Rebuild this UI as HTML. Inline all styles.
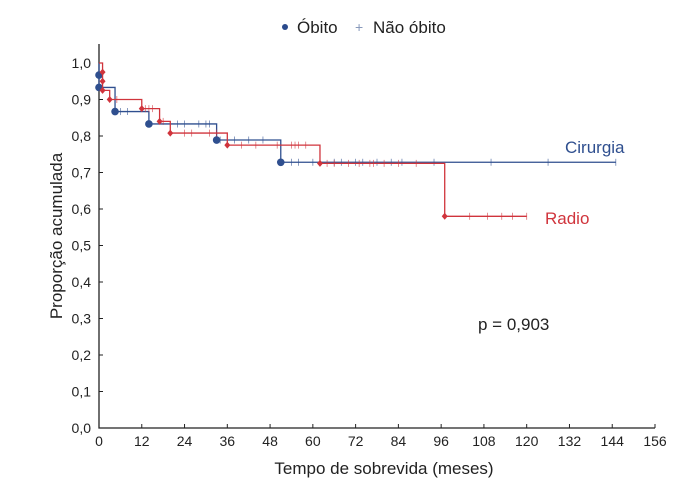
<!DOCTYPE html>
<html><head><meta charset="utf-8"><style>
body{margin:0;background:#fff;}
svg text{font-family:"Liberation Sans",Arial,sans-serif;}
</style></head><body>
<svg id="chart" width="700" height="490" xmlns="http://www.w3.org/2000/svg">
<g>
<circle cx="285" cy="27" r="3" fill="#2a4a8c"/>
<text x="297" y="33" font-size="17" fill="#222">Óbito</text>
<text x="355" y="32" font-size="14" fill="#8899bb">+</text>
<text x="373" y="33" font-size="17" fill="#222">Não óbito</text>
</g>
<g id="axes"></g>
<g id="series"></g>
<text transform="translate(62,236) rotate(-90)" text-anchor="middle" font-size="17" fill="#222">Proporção acumulada</text>
<text x="384" y="474" text-anchor="middle" font-size="17" fill="#222">Tempo de sobrevida (meses)</text>
<text x="565" y="153" font-size="17" fill="#2f4f8f">Cirurgia</text>
<text x="545" y="224" font-size="17" fill="#d0343c">Radio</text>
<text x="478" y="330" font-size="17" fill="#222">p = 0,903</text>
</svg>
<script>
const xTicks=[0,12,24,36,48,60,72,84,96,108,120,132,144,156];
const yTicks=[0,0.1,0.2,0.3,0.4,0.5,0.6,0.7,0.8,0.9,1.0];
const cirEventT=[0,0,4.5,14,33,51];
const cirEventS=[0.967,0.933,0.867,0.833,0.789,0.728];
const cirCensor=[6,8,22,24,28,30,31,34,38,42,46,54,56,60,66,68,72,74,78,82,85,94,110,126,145];
const cirEnd=145;
const radEventT=[1,1,1,3,12,17,20,36,62,97];
const radEventS=[0.975,0.95,0.925,0.9,0.875,0.84,0.808,0.775,0.725,0.58];
const radCensor=[5,13,14,15,18,24,26,31,33,40,44,50,54,55,56,58,64,66,70,73,76,77,80,84,89,104,109,113,116,120];
const radEnd=120;
const X=t=>99+t*(655-99)/156;
const Y=s=>428-s*(428-63);
const NS="http://www.w3.org/2000/svg";
function mk(tag,attrs,parent){const e=document.createElementNS(NS,tag);for(const k in attrs)e.setAttribute(k,attrs[k]);parent.appendChild(e);return e;}
const axes=document.getElementById('axes');
let ax=mk('path',{d:`M${X(0)},44 V${Y(0)} H${X(156)}`,stroke:'#222','stroke-width':1.3,fill:'none'},axes);


xTicks.forEach(t=>{
 const l=mk('line',{x1:X(t),x2:X(t),y1:Y(0),y2:Y(0)-4,stroke:'#222'},axes);
 
 
 const tx=mk('text',{x:X(t),y:446,'text-anchor':'middle','font-size':14,fill:'#222'},axes);
 tx.textContent=t;
 
 
});
yTicks.forEach(v=>{
 const l=mk('line',{x1:X(0),x2:X(0)+4,y1:Y(v),y2:Y(v),stroke:'#222'},axes);
 
 
 const tx=mk('text',{x:91,y:Y(v)+5,'text-anchor':'end','font-size':14,fill:'#222'},axes);
 tx.textContent=v.toFixed(1).replace('.',',');
 
 
});
const series=document.getElementById('series');
function drawKM(name,T,S,C,end,color,marker){
 const g=mk('g',{},series);
 
 
 let d=`M${X(0)},${Y(1)}`;let s=1;
 T.forEach((t,i)=>{d+=` H${X(t)} V${Y(S[i])}`;s=S[i];});
 d+=` H${X(end)}`;
 const p=mk('path',{d,stroke:color,'stroke-width':1.3,fill:'none'},g);
 
 
 const sAt=t=>{let v=1;T.forEach((tt,i)=>{if(tt<=t)v=S[i];});return v;};
 C.forEach(t=>{
  const c=mk('line',{x1:X(t),x2:X(t),y1:Y(sAt(t))-3.5,y2:Y(sAt(t))+3.5,stroke:color,'stroke-width':0.8,opacity:0.7},g);
  
  
 });
 T.forEach((t,i)=>{
  let m;
  if(marker==='circle')m=mk('circle',{cx:X(t),cy:Y(S[i]),r:3.8,fill:color},g);
  else{const x=X(t),y=Y(S[i]);m=mk('path',{d:`M${x},${y-3.5} L${x+3},${y} L${x},${y+3.5} L${x-3},${y} Z`,fill:color},g);}
  
  
 });
}
drawKM('cirurgia',cirEventT,cirEventS,cirCensor,cirEnd,'#2f4f8f','circle');
drawKM('radio',radEventT,radEventS,radCensor,radEnd,'#d0343c','diamond');
</script>
</body></html>
